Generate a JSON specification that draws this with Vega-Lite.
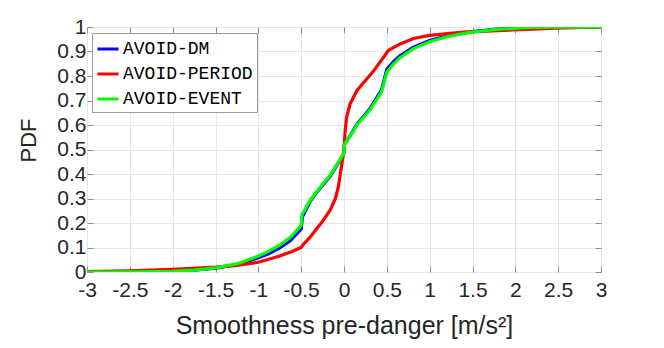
{
  "$schema": "https://vega.github.io/schema/vega-lite/v6.json",
  "width": 514,
  "height": 245,
  "autosize": "none",
  "padding": {"left": 87, "top": 27, "right": 63, "bottom": 76},
  "background": "white",
  "config": {"view": {"stroke": "#8f8f8f", "strokeWidth": 1}, "font": "Liberation Sans"},
  "data": {"values": [
    {"series": "AVOID-DM", "x": -3, "p": 0},
    {"series": "AVOID-DM", "x": -2.5, "p": 0.001},
    {"series": "AVOID-DM", "x": -2, "p": 0.003},
    {"series": "AVOID-DM", "x": -1.75, "p": 0.008},
    {"series": "AVOID-DM", "x": -1.5, "p": 0.016},
    {"series": "AVOID-DM", "x": -1.25, "p": 0.03},
    {"series": "AVOID-DM", "x": -1, "p": 0.058},
    {"series": "AVOID-DM", "x": -0.875, "p": 0.075},
    {"series": "AVOID-DM", "x": -0.75, "p": 0.098},
    {"series": "AVOID-DM", "x": -0.625, "p": 0.128},
    {"series": "AVOID-DM", "x": -0.5, "p": 0.175},
    {"series": "AVOID-DM", "x": -0.485, "p": 0.225},
    {"series": "AVOID-DM", "x": -0.45, "p": 0.25},
    {"series": "AVOID-DM", "x": -0.4, "p": 0.285},
    {"series": "AVOID-DM", "x": -0.32, "p": 0.325},
    {"series": "AVOID-DM", "x": -0.16, "p": 0.392},
    {"series": "AVOID-DM", "x": -0.03, "p": 0.465},
    {"series": "AVOID-DM", "x": 0, "p": 0.485},
    {"series": "AVOID-DM", "x": 0.005, "p": 0.52},
    {"series": "AVOID-DM", "x": 0.11, "p": 0.578},
    {"series": "AVOID-DM", "x": 0.15, "p": 0.603},
    {"series": "AVOID-DM", "x": 0.3, "p": 0.665},
    {"series": "AVOID-DM", "x": 0.44, "p": 0.745},
    {"series": "AVOID-DM", "x": 0.48, "p": 0.8},
    {"series": "AVOID-DM", "x": 0.5, "p": 0.828},
    {"series": "AVOID-DM", "x": 0.58, "p": 0.86},
    {"series": "AVOID-DM", "x": 0.65, "p": 0.882},
    {"series": "AVOID-DM", "x": 0.81, "p": 0.918},
    {"series": "AVOID-DM", "x": 1.0, "p": 0.945},
    {"series": "AVOID-DM", "x": 1.2, "p": 0.963},
    {"series": "AVOID-DM", "x": 1.47, "p": 0.98},
    {"series": "AVOID-DM", "x": 1.78, "p": 0.991},
    {"series": "AVOID-DM", "x": 2.17, "p": 0.998},
    {"series": "AVOID-DM", "x": 2.5, "p": 0.999},
    {"series": "AVOID-DM", "x": 3, "p": 1},
    {"series": "AVOID-PERIOD", "x": -3, "p": 0.002},
    {"series": "AVOID-PERIOD", "x": -2.5, "p": 0.005},
    {"series": "AVOID-PERIOD", "x": -2, "p": 0.011},
    {"series": "AVOID-PERIOD", "x": -1.5, "p": 0.02},
    {"series": "AVOID-PERIOD", "x": -1.25, "p": 0.027},
    {"series": "AVOID-PERIOD", "x": -1, "p": 0.04},
    {"series": "AVOID-PERIOD", "x": -0.75, "p": 0.065},
    {"series": "AVOID-PERIOD", "x": -0.6, "p": 0.085},
    {"series": "AVOID-PERIOD", "x": -0.5, "p": 0.1},
    {"series": "AVOID-PERIOD", "x": -0.47, "p": 0.115},
    {"series": "AVOID-PERIOD", "x": -0.4, "p": 0.14},
    {"series": "AVOID-PERIOD", "x": -0.36, "p": 0.158},
    {"series": "AVOID-PERIOD", "x": -0.25, "p": 0.207},
    {"series": "AVOID-PERIOD", "x": -0.16, "p": 0.253},
    {"series": "AVOID-PERIOD", "x": -0.1, "p": 0.3},
    {"series": "AVOID-PERIOD", "x": -0.066, "p": 0.348},
    {"series": "AVOID-PERIOD", "x": -0.03, "p": 0.43},
    {"series": "AVOID-PERIOD", "x": 0, "p": 0.5},
    {"series": "AVOID-PERIOD", "x": 0.012, "p": 0.57},
    {"series": "AVOID-PERIOD", "x": 0.03, "p": 0.63},
    {"series": "AVOID-PERIOD", "x": 0.07, "p": 0.685},
    {"series": "AVOID-PERIOD", "x": 0.15, "p": 0.74},
    {"series": "AVOID-PERIOD", "x": 0.21, "p": 0.765},
    {"series": "AVOID-PERIOD", "x": 0.34, "p": 0.818},
    {"series": "AVOID-PERIOD", "x": 0.5, "p": 0.895},
    {"series": "AVOID-PERIOD", "x": 0.52, "p": 0.905},
    {"series": "AVOID-PERIOD", "x": 0.65, "p": 0.93},
    {"series": "AVOID-PERIOD", "x": 0.81, "p": 0.953},
    {"series": "AVOID-PERIOD", "x": 1.0, "p": 0.966},
    {"series": "AVOID-PERIOD", "x": 1.39, "p": 0.979},
    {"series": "AVOID-PERIOD", "x": 1.97, "p": 0.988},
    {"series": "AVOID-PERIOD", "x": 2.48, "p": 0.995},
    {"series": "AVOID-PERIOD", "x": 3, "p": 1},
    {"series": "AVOID-EVENT", "x": -3, "p": 0},
    {"series": "AVOID-EVENT", "x": -2.5, "p": 0.001},
    {"series": "AVOID-EVENT", "x": -2, "p": 0.003},
    {"series": "AVOID-EVENT", "x": -1.75, "p": 0.008},
    {"series": "AVOID-EVENT", "x": -1.5, "p": 0.017},
    {"series": "AVOID-EVENT", "x": -1.25, "p": 0.033},
    {"series": "AVOID-EVENT", "x": -1, "p": 0.065},
    {"series": "AVOID-EVENT", "x": -0.875, "p": 0.085},
    {"series": "AVOID-EVENT", "x": -0.75, "p": 0.11},
    {"series": "AVOID-EVENT", "x": -0.625, "p": 0.142},
    {"series": "AVOID-EVENT", "x": -0.5, "p": 0.19},
    {"series": "AVOID-EVENT", "x": -0.49, "p": 0.235},
    {"series": "AVOID-EVENT", "x": -0.455, "p": 0.255},
    {"series": "AVOID-EVENT", "x": -0.4, "p": 0.29},
    {"series": "AVOID-EVENT", "x": -0.32, "p": 0.328},
    {"series": "AVOID-EVENT", "x": -0.16, "p": 0.396},
    {"series": "AVOID-EVENT", "x": -0.03, "p": 0.468},
    {"series": "AVOID-EVENT", "x": 0, "p": 0.485},
    {"series": "AVOID-EVENT", "x": 0.005, "p": 0.52},
    {"series": "AVOID-EVENT", "x": 0.11, "p": 0.575},
    {"series": "AVOID-EVENT", "x": 0.15, "p": 0.6},
    {"series": "AVOID-EVENT", "x": 0.3, "p": 0.66},
    {"series": "AVOID-EVENT", "x": 0.44, "p": 0.736},
    {"series": "AVOID-EVENT", "x": 0.48, "p": 0.79},
    {"series": "AVOID-EVENT", "x": 0.5, "p": 0.815},
    {"series": "AVOID-EVENT", "x": 0.58, "p": 0.85},
    {"series": "AVOID-EVENT", "x": 0.65, "p": 0.874},
    {"series": "AVOID-EVENT", "x": 0.81, "p": 0.912},
    {"series": "AVOID-EVENT", "x": 1.0, "p": 0.94},
    {"series": "AVOID-EVENT", "x": 1.2, "p": 0.96},
    {"series": "AVOID-EVENT", "x": 1.47, "p": 0.978},
    {"series": "AVOID-EVENT", "x": 1.78, "p": 0.99},
    {"series": "AVOID-EVENT", "x": 2.17, "p": 0.998},
    {"series": "AVOID-EVENT", "x": 3, "p": 1}
  ]},
  "layer": [
    {
      "mark": {"type": "line", "strokeWidth": 3.2, "clip": true},
      "encoding": {
        "x": {"field": "x", "type": "quantitative",
          "scale": {"domain": [-3, 3], "nice": false, "zero": false},
          "axis": {"orient": "bottom", "values": [-3, -2.5, -2, -1.5, -1, -0.5, 0, 0.5, 1, 1.5, 2, 2.5, 3],
            "labelExpr": "'' + datum.value", "title": "Smoothness pre-danger [m/s²]",
            "grid": true, "gridColor": "#e6e6e6", "domain": false, "tickSize": -6, "tickColor": "#8f8f8f",
            "labelFontSize": 21, "labelColor": "#262626", "labelPadding": 13, "labelFlush": false,
            "titleFontSize": 25, "titleFontWeight": "normal", "titleColor": "#262626", "titlePadding": 13}},
        "y": {"field": "p", "type": "quantitative",
          "scale": {"domain": [0, 1], "nice": false},
          "axis": {"orient": "left", "values": [0, 0.1, 0.2, 0.3, 0.4, 0.5, 0.6, 0.7, 0.8, 0.9, 1],
            "labelExpr": "'' + datum.value", "title": "PDF",
            "grid": true, "gridColor": "#e6e6e6", "domain": false, "tickSize": -6, "tickColor": "#8f8f8f",
            "labelFontSize": 21, "labelColor": "#262626", "labelPadding": 7, "labelFlush": false,
            "titleFontSize": 22, "titleFontWeight": "normal", "titleColor": "#262626", "titlePadding": 16,
            "titleY": 113}},
        "color": {"field": "series", "type": "nominal",
          "scale": {"domain": ["AVOID-DM", "AVOID-PERIOD", "AVOID-EVENT"], "range": ["#0000ff", "#ff0000", "#00ff00"]},
          "legend": {"orient": "none", "legendX": 5, "legendY": 6, "title": null,
            "strokeColor": "#9a9a9a", "fillColor": "white", "padding": 4,
            "symbolType": "stroke", "symbolSize": 441, "symbolStrokeWidth": 3,
            "labelFont": "Liberation Mono", "labelFontSize": 18, "labelColor": "#000000",
            "labelOffset": 3, "rowPadding": 4}}
      }
    },
    {
      "mark": {"type": "line", "strokeOpacity": 0},
      "encoding": {
        "x": {"field": "x", "type": "quantitative",
          "axis": {"orient": "top", "values": [-3, -2.5, -2, -1.5, -1, -0.5, 0, 0.5, 1, 1.5, 2, 2.5, 3],
            "labels": false, "title": null, "grid": false, "domain": false, "tickSize": -6, "tickColor": "#8f8f8f"}},
        "y": {"field": "p", "type": "quantitative",
          "axis": {"orient": "right", "values": [0, 0.1, 0.2, 0.3, 0.4, 0.5, 0.6, 0.7, 0.8, 0.9, 1],
            "labels": false, "title": null, "grid": false, "domain": false, "tickSize": -6, "tickColor": "#8f8f8f"}},
        "detail": {"field": "series"}
      }
    }
  ],
  "resolve": {"axis": {"x": "independent", "y": "independent"}}
}
